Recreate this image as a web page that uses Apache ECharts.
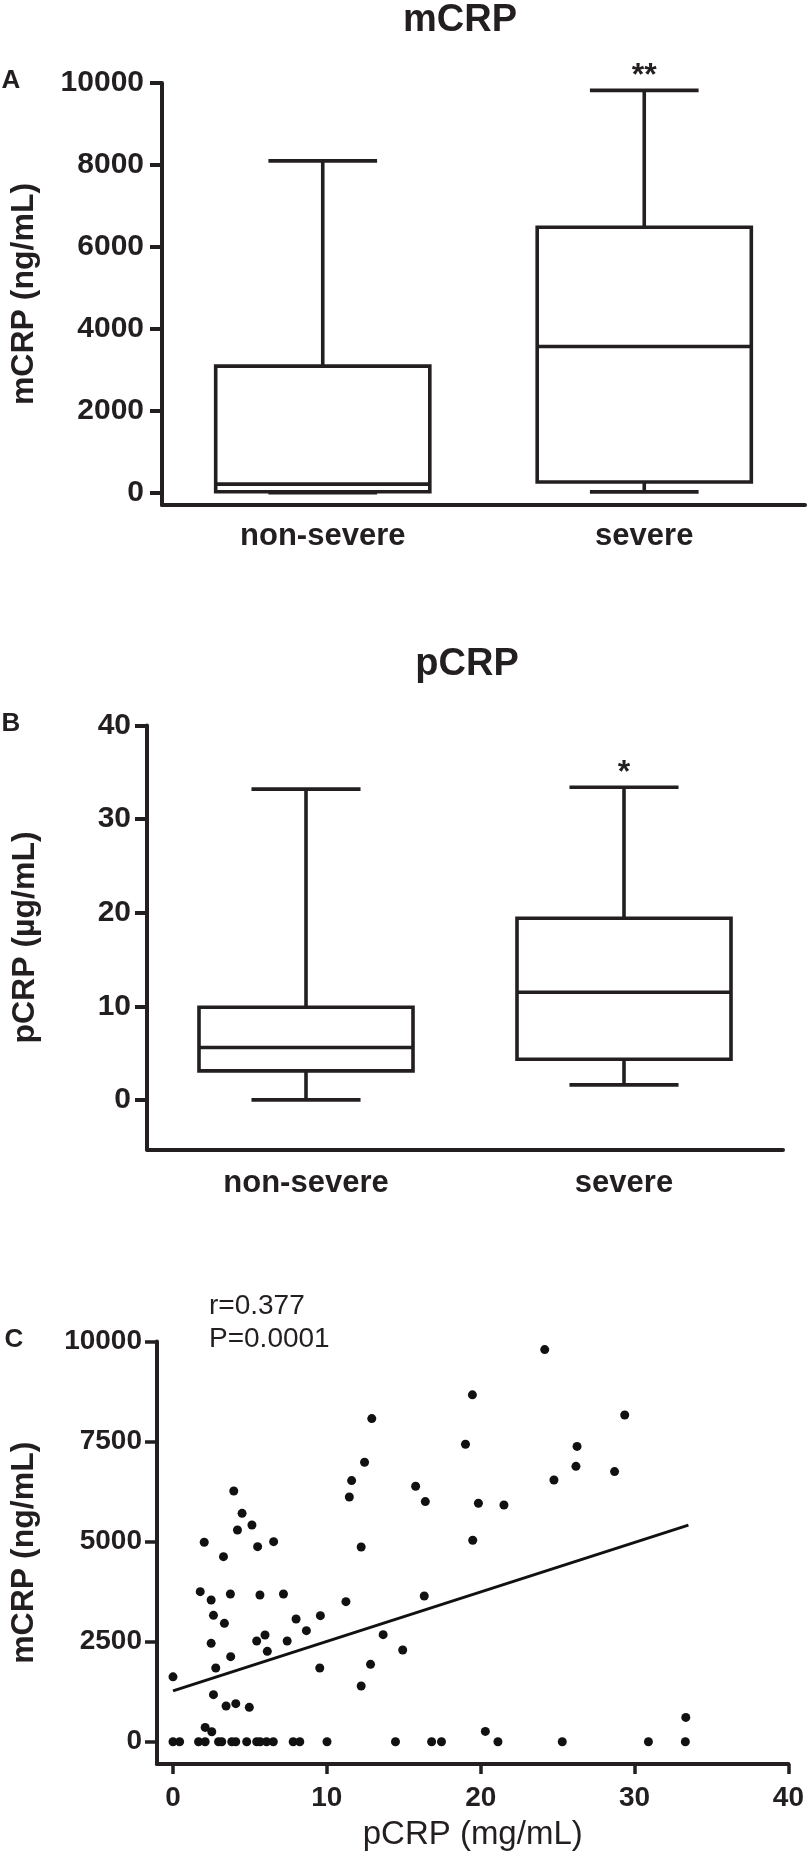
<!DOCTYPE html>
<html><head><meta charset="utf-8">
<script src="https://cdn.jsdelivr.net/npm/echarts@6/dist/echarts.min.js"></script>
<style>html,body{margin:0;padding:0;background:#fff}#c{width:807px;height:1863px}</style>
</head><body><div id="c"></div>
<script>
// ---------- data ----------
const categories = ['non-severe', 'severe'];
// box stats: [min, Q1, median, Q3, max]
const mcrpBoxNonSevere = [0, 25, 210, 3090, 8100];
const mcrpBoxSevere = [20, 260, 3570, 6480, 9820];
const pcrpBoxNonSevere = [0, 3.1, 5.6, 9.9, 33.2];
const pcrpBoxSevere = [1.6, 4.35, 11.5, 19.4, 33.4];
const mcrpSig = ['', '**'];
const pcrpSig = ['', '*'];
const mcrpTicks = [0, 2000, 4000, 6000, 8000, 10000];
const pcrpTicks = [0, 10, 20, 30, 40];
const scatterXTicks = [0, 10, 20, 30, 40];
const scatterYTicks = [0, 2500, 5000, 7500, 10000];
// scatter: pCRP (x) and mCRP (y)
const pcrpX = [0, 0.43, 1.66, 2.09, 2.96, 3.17, 3.82, 4.08, 4.79, 5.44, 5.66, 6.08, 6.52, 7.81, 8.24, 10.01, 14.46, 16.81, 17.45, 21.12, 25.3, 30.9, 33.3,
  2.09, 2.52, 20.3,
  0, 1.77, 2.03, 2.48, 2.63, 2.48, 2.78, 2.63, 3.28, 3.34, 3.73, 3.45, 3.95, 4.19, 4.08, 3.75, 4.49, 4.96, 5.13, 5.5, 5.44, 5.65, 5.98, 6.13, 6.54,
  7.18, 7.42, 8.0, 8.67, 9.58, 9.54, 11.24, 11.46, 11.61, 12.23, 12.45, 12.92, 12.23, 12.84, 13.66, 14.93, 15.77, 16.4, 16.33, 19.01, 19.46, 19.48,
  19.85, 21.51, 24.16, 29.36, 26.26, 26.19, 24.76, 28.7, 33.33];
const mcrpY = [0, 0, 0, 0, 0, 0, 0, 0, 0, 0, 0, 0, 0, 0, 0, 0, 0, 0, 0, 0, 0, 0, 0,
  358, 250, 257,
  1620, 3749, 4983, 3541, 3158, 2458, 1841, 1175, 4624, 2958, 3691, 891, 6265, 5290, 950, 2125, 5707, 858, 5415, 4874, 2516, 3666, 2666, 2258, 4999,
  3691, 2516, 3066, 2774, 3150, 1841, 3499, 6115, 6524, 4866, 6982, 8074, 1391, 1933, 2674, 2291, 6382, 5999, 3641, 7432, 8667, 5033,
  5957, 5915, 9798, 8164, 7379, 6880, 6539, 6749, 607];
const fitLine = [[0, 1270], [33.5, 5410]];

// ---------- chart ----------
const INK = '#231f20';
const FF = '"Liberation Sans", Arial, Helvetica, sans-serif';
const plain = v => String(v);

function boxData(a, b) {
  return [[0].concat(a), [1].concat(b)];
}
function boxRender(sig, boxRatio, capRatio) {
  return function (params, api) {
    const idx = api.value(0);
    const vmin = api.value(1), q1 = api.value(2), med = api.value(3), q3 = api.value(4), vmax = api.value(5);
    const band = api.size([1, 0])[0];
    const cx = api.coord([idx, med])[0];
    const y = v => api.coord([idx, v])[1];
    const hw = band * boxRatio / 2, cw = band * capRatio / 2;
    const st = {stroke: INK, lineWidth: 3.6, fill: 'none'};
    const ch = [
      {type: 'line', shape: {x1: cx, y1: y(q3), x2: cx, y2: y(vmax)}, style: st},
      {type: 'line', shape: {x1: cx, y1: y(vmin), x2: cx, y2: y(q1)}, style: st},
      {type: 'line', shape: {x1: cx - cw, y1: y(vmax), x2: cx + cw, y2: y(vmax)}, style: st},
      {type: 'line', shape: {x1: cx - cw, y1: y(vmin), x2: cx + cw, y2: y(vmin)}, style: st},
      {type: 'rect', shape: {x: cx - hw, y: y(q3), width: 2 * hw, height: y(q1) - y(q3)}, style: {stroke: INK, lineWidth: 3.6, fill: '#fff'}},
      {type: 'line', shape: {x1: cx - hw, y1: y(med), x2: cx + hw, y2: y(med)}, style: st}
    ];
    const s = sig[params.dataIndex];
    if (s) {
      ch.push({type: 'text', x: cx, y: y(vmax) - 14,
        style: {text: s, fontSize: 32, fontWeight: 'bold', fontFamily: FF, fill: INK, align: 'center', verticalAlign: 'middle'}});
    }
    return {type: 'group', children: ch};
  };
}

const axisLineStyle = {show: true, onZero: false, lineStyle: {color: INK, width: 4}};

const option = {
  animation: false,
  backgroundColor: '#fff',
  grid: [
    {left: 159, top: 83, width: 646, height: 422},
    {left: 147, top: 725.5, width: 636, height: 424},
    {left: 155, top: 1341.5, width: 634, height: 422.5}
  ],
  xAxis: [
    {gridIndex: 0, type: 'category', data: categories, axisLine: axisLineStyle, axisTick: {show: false},
      axisLabel: {color: INK, fontSize: 31, fontWeight: 'bold', fontFamily: FF, margin: 16}, splitLine: {show: false}},
    {gridIndex: 1, type: 'category', data: categories, axisLine: axisLineStyle, axisTick: {show: false},
      axisLabel: {color: INK, fontSize: 31, fontWeight: 'bold', fontFamily: FF, margin: 18}, splitLine: {show: false}},
    {gridIndex: 2, type: 'value', min: -1.04, max: 40, axisLine: axisLineStyle,
      axisTick: {show: true, length: 10, customValues: scatterXTicks, lineStyle: {color: INK, width: 3.5}},
      axisLabel: {color: INK, fontSize: 28, fontWeight: 'bold', fontFamily: FF, margin: 20, customValues: scatterXTicks, formatter: plain},
      splitLine: {show: false},
      name: 'pCRP (mg/mL)', nameLocation: 'middle', nameGap: 54,
      nameTextStyle: {color: INK, fontSize: 33, fontFamily: FF}}
  ],
  yAxis: [
    {gridIndex: 0, type: 'value', min: -300, max: 10000, axisLine: axisLineStyle,
      axisTick: {show: true, length: 12, customValues: mcrpTicks, lineStyle: {color: INK, width: 4}},
      axisLabel: {color: INK, fontSize: 30, fontWeight: 'bold', fontFamily: FF, margin: 18, customValues: mcrpTicks, formatter: plain},
      splitLine: {show: false},
      name: 'mCRP (ng/mL)', nameLocation: 'middle', nameGap: 122,
      nameTextStyle: {color: INK, fontSize: 32, fontWeight: 'bold', fontFamily: FF}},
    {gridIndex: 1, type: 'value', min: -5.3, max: 40, axisLine: axisLineStyle,
      axisTick: {show: true, length: 12, customValues: pcrpTicks, lineStyle: {color: INK, width: 4}},
      axisLabel: {color: INK, fontSize: 30, fontWeight: 'bold', fontFamily: FF, margin: 16, customValues: pcrpTicks, formatter: plain},
      splitLine: {show: false},
      name: 'pCRP (\u00b5g/mL)', nameLocation: 'middle', nameGap: 106,
      nameTextStyle: {color: INK, fontSize: 32, fontWeight: 'bold', fontFamily: FF}},
    {gridIndex: 2, type: 'value', min: -557, max: 10000, axisLine: axisLineStyle,
      axisTick: {show: true, length: 12, customValues: scatterYTicks, lineStyle: {color: INK, width: 3.5}},
      axisLabel: {color: INK, fontSize: 28, fontWeight: 'bold', fontFamily: FF, margin: 15, customValues: scatterYTicks, formatter: plain},
      splitLine: {show: false},
      name: 'mCRP (ng/mL)', nameLocation: 'middle', nameGap: 117,
      nameTextStyle: {color: INK, fontSize: 32, fontWeight: 'bold', fontFamily: FF}}
  ],
  series: [
    {type: 'custom', xAxisIndex: 0, yAxisIndex: 0, data: boxData(mcrpBoxNonSevere, mcrpBoxSevere),
      encode: {x: 0, y: [1, 2, 3, 4, 5]}, renderItem: boxRender(mcrpSig, 0.666, 0.338)},
    {type: 'custom', xAxisIndex: 1, yAxisIndex: 1, data: boxData(pcrpBoxNonSevere, pcrpBoxSevere),
      encode: {x: 0, y: [1, 2, 3, 4, 5]}, renderItem: boxRender(pcrpSig, 0.673, 0.343)},
    {type: 'scatter', xAxisIndex: 2, yAxisIndex: 2, symbol: 'circle', symbolSize: 9,
      itemStyle: {color: '#111', opacity: 1}, data: pcrpX.map((x, i) => [x, mcrpY[i]]), z: 3},
    {type: 'line', xAxisIndex: 2, yAxisIndex: 2, data: fitLine, showSymbol: false, symbol: 'none',
      lineStyle: {color: '#111', width: 3}, z: 2}
  ],
  graphic: [
    {type: 'text', x: 460, y: 21, style: {text: 'mCRP', fontSize: 38, fontWeight: 'bold', fontFamily: FF, fill: INK, align: 'center', verticalAlign: 'middle'}},
    {type: 'text', x: 467, y: 665, style: {text: 'pCRP', fontSize: 38, fontWeight: 'bold', fontFamily: FF, fill: INK, align: 'center', verticalAlign: 'middle'}},
    {type: 'text', x: 11, y: 81, style: {text: 'A', fontSize: 26, fontWeight: 'bold', fontFamily: FF, fill: INK, align: 'center', verticalAlign: 'middle'}},
    {type: 'text', x: 11, y: 724, style: {text: 'B', fontSize: 26, fontWeight: 'bold', fontFamily: FF, fill: INK, align: 'center', verticalAlign: 'middle'}},
    {type: 'text', x: 14, y: 1340, style: {text: 'C', fontSize: 26, fontWeight: 'bold', fontFamily: FF, fill: INK, align: 'center', verticalAlign: 'middle'}},
    {type: 'text', x: 209, y: 1306, style: {text: 'r=0.377', fontSize: 28, fontFamily: FF, fill: INK, align: 'left', verticalAlign: 'middle'}},
    {type: 'text', x: 209, y: 1339, style: {text: 'P=0.0001', fontSize: 28, fontFamily: FF, fill: INK, align: 'left', verticalAlign: 'middle'}}
  ]
};
const chart = echarts.init(document.getElementById('c'), null, {renderer: 'canvas'});
chart.setOption(option);
</script>
</body></html>
